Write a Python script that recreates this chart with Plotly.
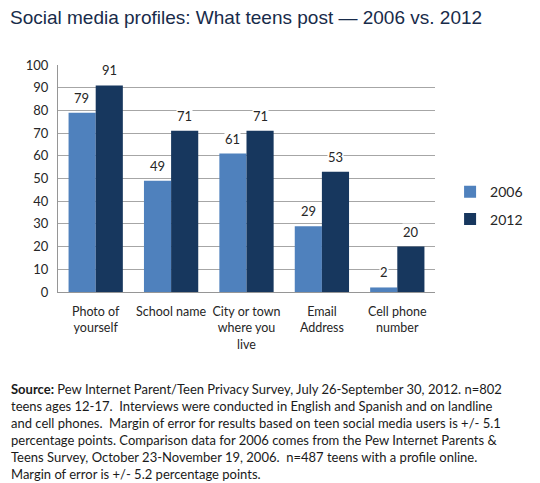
import plotly.graph_objects as go

categories = ["Photo of<br>yourself", "School name", "City or town<br>where you<br>live", "Email<br>Address", "Cell phone<br>number"]
series_names = ["2006", "2012"]
values_2006 = [79, 49, 61, 29, 2]
values_2012 = [91, 71, 71, 53, 20]
colors = ["#4f81bd", "#17375e"]
y_ticks = list(range(0, 101, 10))

title_text = "Social media profiles: What teens post \u2014 2006 vs. 2012"
source_lines = [
    "<b>Source:</b> Pew Internet Parent/Teen Privacy Survey, July 26-September 30, 2012. n=802",
    "teens ages 12-17.  Interviews were conducted in English and Spanish and on landline",
    "and cell phones.  Margin of error for results based on teen social media users is +/- 5.1",
    "percentage points. Comparison data for 2006 comes from the Pew Internet Parents &amp;",
    "Teens Survey, October 23-November 19, 2006.  n=487 teens with a profile online.",
    "Margin of error is +/- 5.2 percentage points.",
]

FONT = "Lato"
L, R, T, B = 58, 99, 65, 191
W, H = 540, 483
plot_w = W - L - R
plot_h = H - T - B
bargap = 0.28
bar_w = plot_w / len(categories) * (1 - bargap) / 2


def px_to_plot(px, py):
    return (px - L) / plot_w, (H - B - py) / plot_h


fig = go.Figure()
for name, vals, col in zip(series_names, [values_2006, values_2012], colors):
    fig.add_trace(go.Bar(x=categories, y=vals, name=name, legendgroup=name,
                         marker=dict(color=col, line=dict(width=0))))

annotations = []
for vals, sign in [(values_2006, -1), (values_2012, 1)]:
    for c, v in zip(categories, vals):
        annotations.append(dict(x=c, y=v, xref="x", yref="y", text=str(v), showarrow=False,
                                xshift=sign * bar_w / 2, yshift=15, bgcolor="white",
                                font=dict(family=FONT, size=13, color="#262626"), borderpad=0))

tx, ty = px_to_plot(7, 18)
annotations.append(dict(x=tx, y=ty, xref="paper", yref="paper", xanchor="left", yanchor="middle",
                        text=title_text, showarrow=False,
                        font=dict(family="Liberation Sans", size=19, color="#182b4a")))
sx, sy = px_to_plot(8, 379)
annotations.append(dict(x=sx, y=sy, xref="paper", yref="paper", xanchor="left", yanchor="top",
                        align="left", text="<br>".join(source_lines), showarrow=False,
                        font=dict(family=FONT, size=13, color="#1a1a1a")))

fig.update_layout(
    width=W, height=H,
    margin=dict(l=L, r=R, t=T, b=B),
    paper_bgcolor="white", plot_bgcolor="white",
    barmode="group", bargap=bargap, bargroupgap=0,
    showlegend=True,
    legend=dict(x=1.04, y=0.38, xanchor="left", yanchor="middle",
                font=dict(family=FONT, size=14, color="#262626"),
                itemwidth=30, tracegroupgap=6),
    xaxis=dict(showgrid=False, showline=True, linecolor="#969696", linewidth=1,
               tickfont=dict(family=FONT, size=12.5, color="#262626"), ticklabelstandoff=8),
    yaxis=dict(range=[0, 100], tickvals=y_ticks, showgrid=True, gridcolor="#a6a6a6", gridwidth=1,
               showline=True, linecolor="#969696", linewidth=1, zeroline=False,
               tickfont=dict(family=FONT, size=13, color="#262626"), ticklabelstandoff=6),
    annotations=annotations,
)

fig.write_html("out.html")
